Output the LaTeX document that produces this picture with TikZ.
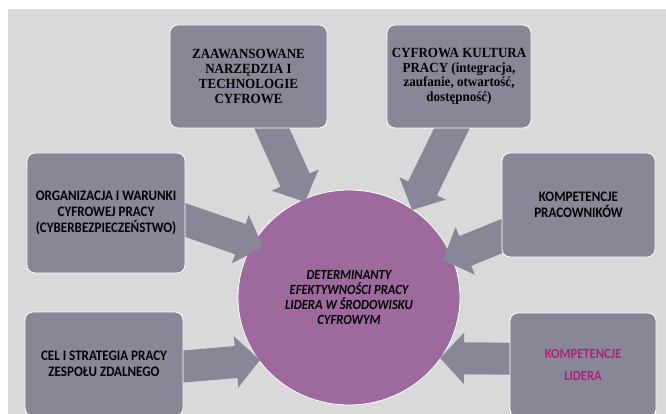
\documentclass[tikz,border=0pt]{standalone}
\usepackage{fontspec}
\newfontfamily\calibfont[FakeStretch=0.9]{Carlito}
\newfontfamily\timesfont[FakeStretch=0.93]{Liberation Serif}
\usetikzlibrary{shapes.geometric,arrows.meta,calc}
\definecolor{tlo}{HTML}{D9D9D9}
\definecolor{szary}{HTML}{898797}
\definecolor{fiolet}{HTML}{9E6A9E}
\definecolor{lidercol}{HTML}{AE2279}
\pgfdeclarelayer{tlo}
\pgfdeclarelayer{kolo}
\pgfdeclarelayer{strzalki}
\pgfsetlayers{tlo,kolo,strzalki,main}

\begin{document}
\begin{tikzpicture}[x=1pt,y=-1pt,
	pole/.style={rectangle,rounded corners=8pt,draw=white,line width=0.8pt,fill=szary,align=center,inner sep=2pt},
	sans/.style={font=\calibfont\bfseries\fontsize{14.5}{16.3}\selectfont},
	serif/.style={font=\timesfont\bfseries\fontsize{14}{14.7}\selectfont},
	strz/.style={draw=szary,line width=32pt,-{Triangle[length=24pt,width=50pt]}}]
	\useasboundingbox (0,0) rectangle (666,414);
	\clip (0,0) rectangle (666,414);
	\begin{pgfonlayer}{tlo}
		\fill[tlo] (8,9) rectangle (666,414);
	\end{pgfonlayer}
	% pola
	\node (narz)[pole,serif,minimum width=157pt,minimum height=103pt] at (248.5,76.5) {ZAAWANSOWANE\\NARZĘDZIA I\\TECHNOLOGIE\\CYFROWE};
	\node (kult)[pole,serif,minimum width=144pt,minimum height=103pt] at (459,76.5) {CYFROWA KULTURA\\PRACY (integracja,\\zaufanie, otwartość,\\dostępność)};
	\node (org)[pole,sans,minimum width=158pt,minimum height=120pt] at (106,213) {ORGANIZACJA I WARUNKI\\CYFROWEJ PRACY\\(CYBERBEZPIECZEŃSTWO)};
	\node (prac)[pole,sans,minimum width=153pt,minimum height=104pt] at (578.5,205) {KOMPETENCJE\\PRACOWNIKÓW};
	\node (cel)[pole,sans,minimum width=158pt,minimum height=104pt] at (104,364) {CEL I STRATEGIA PRACY\\ZESPOŁU ZDALNEGO};
	\node (lid)[pole,font=\calibfont\bfseries\fontsize{14}{22}\selectfont,text=lidercol,minimum width=146pt,minimum height=104pt] at (583,365) {KOMPETENCJE\\LIDERA};
	% srodek
	\begin{pgfonlayer}{kolo}
		\node (det)[ellipse,draw=white,line width=0.8pt,fill=fiolet,minimum width=222pt,minimum height=215pt,inner sep=0pt,align=center,
			font=\calibfont\bfseries\itshape\fontsize{14}{15.3}\selectfont] at (349,297.5) {DETERMINANTY\\EFEKTYWNOŚCI PRACY\\LIDERA W ŚRODOWISKU\\CYFROWYM};
	\end{pgfonlayer}
	% groty
	\coordinate (g1) at (305,202);
	\coordinate (g2) at (412,210);
	\coordinate (g3) at (263,247);
	\coordinate (g4) at (443,260);
	\coordinate (g5) at (260,360);
	\coordinate (g6) at (440,358);
	% strzalki
	\begin{pgfonlayer}{strzalki}
		\draw[strz] (narz.center) -- (g1);
		\draw[strz] ($(kult.south)+(5,-25)$) -- (g2);
		\draw[strz] ($(org.east)+(-30,-3.4)$) -- (g3);
		\draw[strz] ($(prac.west)+(30,19)$) -- (g4);
		\draw[strz] ($(cel.east)+(-30,5)$) -- (g5);
		\draw[strz] ($(lid.west)+(30,-6)$) -- (g6);
	\end{pgfonlayer}
\end{tikzpicture}
\end{document}
